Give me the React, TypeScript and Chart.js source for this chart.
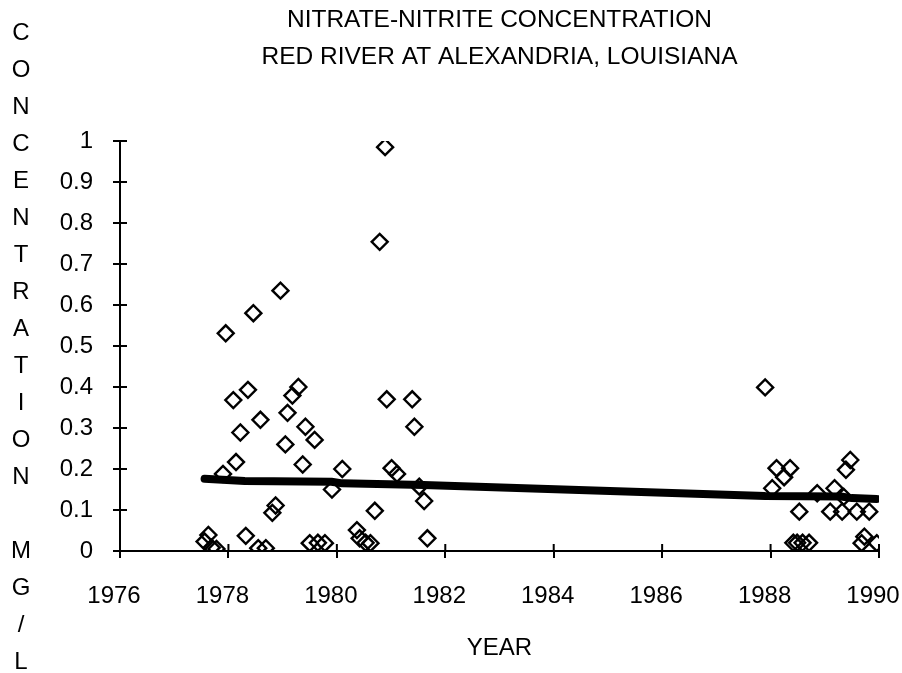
import React, { useEffect, useRef } from "react";
import { Chart, registerables } from "chart.js";

Chart.register(...registerables);

const years = [
  1977.56, 1977.63, 1977.69, 1977.78, 1977.9, 1977.95, 1978.09, 1978.14, 1978.22, 1978.32,
  1978.36, 1978.46, 1978.55, 1978.59, 1978.69, 1978.81, 1978.87, 1978.96, 1979.05, 1979.09,
  1979.18, 1979.29, 1979.37, 1979.42, 1979.5, 1979.59, 1979.65, 1979.78, 1979.91, 1980.1,
  1980.37, 1980.42, 1980.53, 1980.62, 1980.7, 1980.79, 1980.89, 1980.92, 1981.01, 1981.11,
  1981.39, 1981.43, 1981.52, 1981.61, 1981.67, 1987.9, 1988.03, 1988.11, 1988.25, 1988.36,
  1988.42, 1988.49, 1988.53, 1988.59, 1988.71, 1988.86, 1989.1, 1989.18, 1989.32, 1989.35,
  1989.39, 1989.47, 1989.59, 1989.68, 1989.73, 1989.82, 1989.96,
];
const values = [
  0.023, 0.039, 0.008, 0.005, 0.188, 0.531, 0.368, 0.217, 0.289, 0.037,
  0.393, 0.58, 0.007, 0.32, 0.007, 0.093, 0.111, 0.635, 0.26, 0.337,
  0.379, 0.4, 0.211, 0.303, 0.019, 0.271, 0.02, 0.019, 0.15, 0.2,
  0.051, 0.031, 0.02, 0.019, 0.098, 0.754, 0.985, 0.37, 0.202, 0.188,
  0.37, 0.303, 0.157, 0.122, 0.031, 0.399, 0.153, 0.202, 0.18, 0.202,
  0.02, 0.02, 0.096, 0.02, 0.02, 0.141, 0.096, 0.153, 0.096, 0.132,
  0.198, 0.222, 0.096, 0.019, 0.035, 0.096, 0.019,
];

const trendYears = [1977.56, 1978.3, 1979.9, 1980.1, 1981.6, 1987.9, 1989.3, 1989.5, 1989.96];
const trendValues = [0.176, 0.171, 0.169, 0.165, 0.161, 0.134, 0.133, 0.129, 0.127];

const titleLines = ["NITRATE-NITRITE CONCENTRATION", "RED RIVER AT ALEXANDRIA, LOUISIANA"];
const xTitle = "YEAR";
const yTitleLetters = ["C", "O", "N", "C", "E", "N", "T", "R", "A", "T", "I", "O", "N", "", "M", "G", "/", "L"];

const FONT = '"Liberation Sans", Arial, sans-serif';

export default function App() {
  const ref = useRef<HTMLCanvasElement>(null);

  useEffect(() => {
    document.body.style.margin = "0";
    const canvas = ref.current;
    if (!canvas) return;

    const textPlugin = {
      id: "customTexts",
      afterDraw(chart: any) {
        const { ctx, chartArea } = chart;
        ctx.save();
        ctx.fillStyle = "#000";
        ctx.textAlign = "center";
        ctx.textBaseline = "middle";
        const cx = (chartArea.left + chartArea.right) / 2;
        ctx.font = `24.5px ${FONT}`;
        ctx.fillText(titleLines[0], cx, 20);
        ctx.fillText(titleLines[1], cx, 57);
        ctx.font = `24px ${FONT}`;
        ctx.fillText(xTitle, cx, 648);
        yTitleLetters.forEach((ch, i) => {
          if (ch) ctx.fillText(ch, 21, 33 + i * 37);
        });
        // inner half of crossing tick marks
        const xs = chart.scales.x;
        const ys = chart.scales.y;
        ctx.strokeStyle = "#000";
        ctx.lineWidth = 2;
        ctx.beginPath();
        ys.ticks.forEach((t: any) => {
          const p = ys.getPixelForValue(t.value);
          ctx.moveTo(chartArea.left, p);
          ctx.lineTo(chartArea.left + 7, p);
        });
        xs.ticks.forEach((t: any) => {
          const p = xs.getPixelForValue(t.value);
          ctx.moveTo(p, chartArea.bottom);
          ctx.lineTo(p, chartArea.bottom - 7);
        });
        ctx.stroke();
        ctx.restore();
      },
    };

    const chart = new Chart(canvas, {
      type: "scatter",
      data: {
        datasets: [
          {
            type: "line",
            data: trendYears.map((x, i) => ({ x, y: trendValues[i] })),
            borderColor: "#000",
            borderWidth: 8,
            pointRadius: 0,
            borderCapStyle: "round",
            borderJoinStyle: "round",
            tension: 0,
            order: 2,
          } as any,
          {
            data: years.map((x, i) => ({ x, y: values[i] })),
            pointStyle: "rectRot",
            pointRadius: 8,
            borderColor: "#000",
            backgroundColor: "rgba(0,0,0,0)",
            borderWidth: 2.4,
            order: 1,
          } as any,
        ],
      },
      options: {
        animation: false,
        responsive: false,
        maintainAspectRatio: false,
        layout: { padding: { top: 141, right: 23, left: 0, bottom: 0 } },
        plugins: { legend: { display: false }, tooltip: { enabled: false }, title: { display: false } },
        scales: {
          x: {
            type: "linear",
            min: 1976,
            max: 1990,
            ticks: {
              stepSize: 2,
              color: "#000",
              font: { size: 24, family: FONT },
              padding: 24,
              labelOffset: -6,
              maxRotation: 0,
              autoSkip: false,
              callback: (v: any) => String(v),
            },
            grid: { drawOnChartArea: false, tickLength: 7, color: "#000", lineWidth: 2 },
            border: { color: "#000", width: 2 },
            afterFit: (s: any) => {
              s.height = 122;
              s.paddingLeft = 0;
              s.paddingRight = 0;
            },
          },
          y: {
            type: "linear",
            min: 0,
            max: 1,
            ticks: {
              stepSize: 0.1,
              color: "#000",
              font: { size: 24, family: FONT },
              padding: 20,
              callback: (v: any) => String(Math.round(Number(v) * 10) / 10),
            },
            grid: { drawOnChartArea: false, tickLength: 7, color: "#000", lineWidth: 2 },
            border: { color: "#000", width: 2 },
            afterFit: (s: any) => {
              s.width = 120;
              s.paddingTop = 0;
              s.paddingBottom = 0;
            },
          },
        },
      } as any,
      plugins: [textPlugin],
    });

    return () => chart.destroy();
  }, []);

  return (
    <div style={{ width: 902, height: 673, background: "#fff" }}>
      <canvas ref={ref} width={902} height={673} style={{ width: 902, height: 673, display: "block" }} />
    </div>
  );
}
